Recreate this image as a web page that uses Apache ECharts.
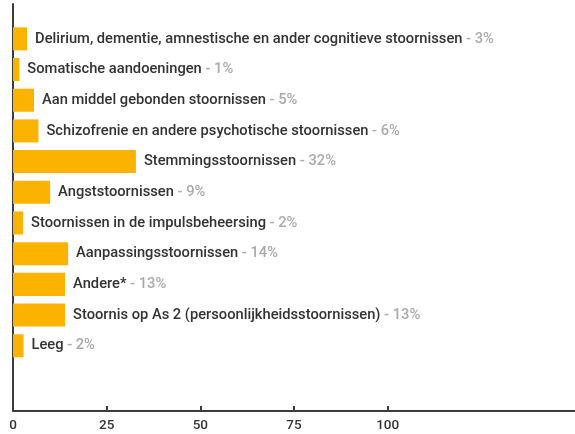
<!DOCTYPE html>
<html>
<head>
<meta charset="utf-8">
<script src="https://cdn.jsdelivr.net/npm/echarts@6/dist/echarts.min.js"></script>
<style>
html,body{margin:0;padding:0;background:#fff;}
#chart{width:575px;height:434px;}
</style>
</head>
<body>
<div id="chart"></div>
<script>
// Categories (top to bottom)
var categories = [
  'Delirium, dementie, amnestische en ander cognitieve stoornissen',
  'Somatische aandoeningen',
  'Aan middel gebonden stoornissen',
  'Schizofrenie en andere psychotische stoornissen',
  'Stemmingsstoornissen',
  'Angststoornissen',
  'Stoornissen in de impulsbeheersing',
  'Aanpassingsstoornissen',
  'Andere*',
  'Stoornis op As 2 (persoonlijkheidsstoornissen)',
  'Leeg'
];
// Bar lengths as read against the x axis
var barValues = [3.75, 1.7, 5.6, 6.8, 32.8, 9.9, 2.7, 14.7, 13.9, 13.9, 2.8];
// Percentages shown in the labels
var percentLabels = [3, 1, 5, 6, 32, 9, 2, 14, 13, 13, 2];
// Axis tick labels
var tickValues = [0, 25, 50, 75, 100];
var axisMax = 150;

var chart = echarts.init(document.getElementById('chart'), null, {renderer: 'canvas'});
var font = 'Roboto, "Noto Sans", sans-serif';
var axisColor = '#3c3c3c';

var option = {
  animation: false,
  grid: [
    {left: 13, width: 564, top: 23.5, height: 337.6, containLabel: false},
    {left: 13, width: 564, top: 4, height: 407, containLabel: false}
  ],
  xAxis: [
    {gridIndex: 0, type: 'value', min: 0, max: axisMax, show: false},
    {
      gridIndex: 1, type: 'value', min: 0, max: axisMax,
      axisLine: {show: true, lineStyle: {color: axisColor, width: 2}},
      axisTick: {show: true, inside: true, length: 5, lineStyle: {color: axisColor, width: 2}, customValues: tickValues.slice(1)},
      axisLabel: {show: true, customValues: tickValues, color: '#333', fontSize: 13.5, fontFamily: font, fontWeight: 500, margin: 8},
      splitLine: {show: false}
    }
  ],
  yAxis: [
    {gridIndex: 0, type: 'category', data: categories, inverse: true, show: false},
    {
      gridIndex: 1, type: 'value', min: 0, max: 1,
      axisLine: {show: true, lineStyle: {color: axisColor, width: 2}},
      axisTick: {show: false}, axisLabel: {show: false}, splitLine: {show: false}
    }
  ],
  series: [{
    type: 'bar',
    xAxisIndex: 0,
    yAxisIndex: 0,
    data: barValues,
    barCategoryGap: '25%',
    itemStyle: {color: '#FBB300'},
    label: {
      show: true,
      position: 'right',
      distance: 8,
      formatter: function (p) {
        return '{n|' + categories[p.dataIndex] + '}{p| - ' + percentLabels[p.dataIndex] + '%}';
      },
      rich: {
        n: {color: '#333', fontSize: 14.7, fontFamily: font, fontWeight: 500},
        p: {color: '#aaa', fontSize: 14.7, fontFamily: font, fontWeight: 500}
      }
    }
  }]
};
chart.setOption(option);
</script>
</body>
</html>
